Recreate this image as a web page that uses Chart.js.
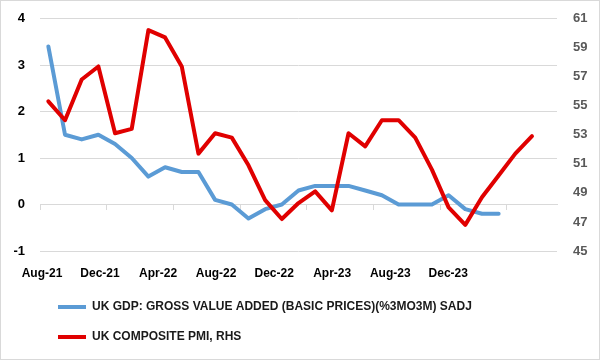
<!DOCTYPE html>
<html>
<head>
<meta charset="utf-8">
<script src="https://cdn.jsdelivr.net/npm/chart.js@4.4.1/dist/chart.umd.min.js"></script>
<style>
  html, body { margin: 0; padding: 0; background: #fff; }
  #wrap { width: 600px; height: 360px; position: relative; }
</style>
</head>
<body>
<div id="wrap"><canvas id="myChart"></canvas></div>
<script>
// monthly categories, Aug-21 .. Feb-24
const months = [
  'Aug-21','Sep-21','Oct-21','Nov-21','Dec-21','Jan-22','Feb-22','Mar-22',
  'Apr-22','May-22','Jun-22','Jul-22','Aug-22','Sep-22','Oct-22','Nov-22',
  'Dec-22','Jan-23','Feb-23','Mar-23','Apr-23','May-23','Jun-23','Jul-23',
  'Aug-23','Sep-23','Oct-23','Nov-23','Dec-23','Jan-24','Feb-24'
];

// GDP %3m/3m (left axis)
const gdp = [
  3.4, 1.5, 1.4, 1.5, 1.3, 1.0, 0.6, 0.8, 0.7, 0.7,
  0.1, 0.0, -0.3, -0.1, 0.0, 0.3, 0.4, 0.4, 0.4, 0.3,
  0.2, 0.0, 0.0, 0.0, 0.2, -0.1, -0.2, -0.2
];

// composite PMI (right axis)
const pmi = [
  55.3, 54.0, 56.8, 57.7, 53.1, 53.4, 60.2, 59.7, 57.7, 51.7,
  53.1, 52.8, 50.9, 48.5, 47.2, 48.3, 49.1, 47.8, 53.1, 52.2,
  54.0, 54.0, 52.8, 50.6, 48.0, 46.8, 48.7, 50.2, 51.7, 52.9
];

const tickLabels = ['Aug-21','Dec-21','Apr-22','Aug-22','Dec-22','Apr-23','Aug-23','Dec-23'];

const seriesNames = [
  'UK GDP: GROSS VALUE ADDED (BASIC PRICES)(%3MO3M) SADJ',
  'UK COMPOSITE PMI, RHS'
];

Chart.defaults.font.family = "'Liberation Sans', Arial, sans-serif";
Chart.defaults.font.size = 12;

const frame = {
  id: 'frame',
  afterDraw(chart) {
    const c = chart.ctx;
    c.save();
    c.strokeStyle = '#d9d9d9';
    c.lineWidth = 1;
    c.strokeRect(0.5, 0.5, chart.width - 1, chart.height - 1);
    c.restore();
  }
};

const graph01 = document.getElementById('myChart').getContext('2d');

const myChart = new Chart(graph01, {
  type: 'line',
  data: {
    datasets: [{
      label: seriesNames[0],
      data: gdp.map((v, i) => ({ x: i, y: v })),
      borderColor: '#5b9bd5',
      backgroundColor: '#5b9bd5',
      borderWidth: 4,
      borderCapStyle: 'round',
      borderJoinStyle: 'round',
      yAxisID: 'y',
      xAxisID: 'x',
      order: 1
    }, {
      label: seriesNames[1],
      data: pmi.map((v, i) => ({ x: i, y: v })),
      borderColor: '#e00000',
      backgroundColor: '#e00000',
      borderWidth: 4,
      borderCapStyle: 'round',
      borderJoinStyle: 'round',
      yAxisID: 'y1',
      xAxisID: 'x',
      order: 0
    }]
  },
  options: {
    responsive: true,
    maintainAspectRatio: false,
    animation: false,
    elements: { point: { radius: 0 }, line: { tension: 0 } },
    layout: { padding: { top: 18.5, left: 0, right: 0, bottom: 7 } },
    plugins: {
      tooltip: { enabled: false },
      legend: {
        position: 'bottom',
        align: 'start',
        fullSize: false,
        labels: {
          usePointStyle: true,
          pointStyle: 'line',
          pointStyleWidth: 28,
          padding: 18,
          color: '#1a1a1a',
          font: { size: 12, weight: 'bold' },
          sort: (a, b) => a.datasetIndex - b.datasetIndex
        }
      }
    },
    scales: {
      x: {
        type: 'linear',
        position: { y: 0 },
        min: -0.5,
        max: 30.5,
        afterBuildTicks: (scale) => {
          scale.ticks = [];
          for (let i = 0; i < months.length; i += 4) scale.ticks.push({ value: i - 0.5 });
        },
        ticks: { display: false },
        grid: { drawOnChartArea: false, drawTicks: true, tickLength: 5, color: '#d9d9d9' },
        border: { display: true, color: '#d9d9d9' }
      },
      x2: {
        type: 'linear',
        position: 'bottom',
        min: -0.5,
        max: 30.5,
        afterBuildTicks: (scale) => {
          scale.ticks = tickLabels.map((t, k) => ({ value: -0.38 + 3.48 * k }));
        },
        afterFit: (scale) => { scale.height = 32; },
        ticks: {
          padding: 15,
          maxRotation: 0,
          color: '#000',
          font: { size: 12, weight: 'bold' },
          callback: (v, i) => tickLabels[i]
        },
        grid: { display: false, drawTicks: false },
        border: { display: false }
      },
      y: {
        position: 'left',
        min: -1,
        max: 4,
        afterFit: (scale) => { scale.width = 40; },
        ticks: { stepSize: 1, padding: 0, color: '#000', font: { size: 13, weight: 'bold' } },
        grid: { color: '#d9d9d9', drawTicks: true, tickLength: 15, tickColor: 'rgba(0,0,0,0)' },
        border: { display: false }
      },
      y1: {
        position: 'right',
        min: 45,
        max: 61,
        afterFit: (scale) => { scale.width = 43; },
        ticks: { stepSize: 2, padding: 0, color: '#595959', font: { size: 13, weight: 'bold' } },
        grid: { drawOnChartArea: false, drawTicks: true, tickLength: 16, tickColor: 'rgba(0,0,0,0)' },
        border: { display: false }
      }
    }
  },
  plugins: [frame]
});
</script>
</body>
</html>
